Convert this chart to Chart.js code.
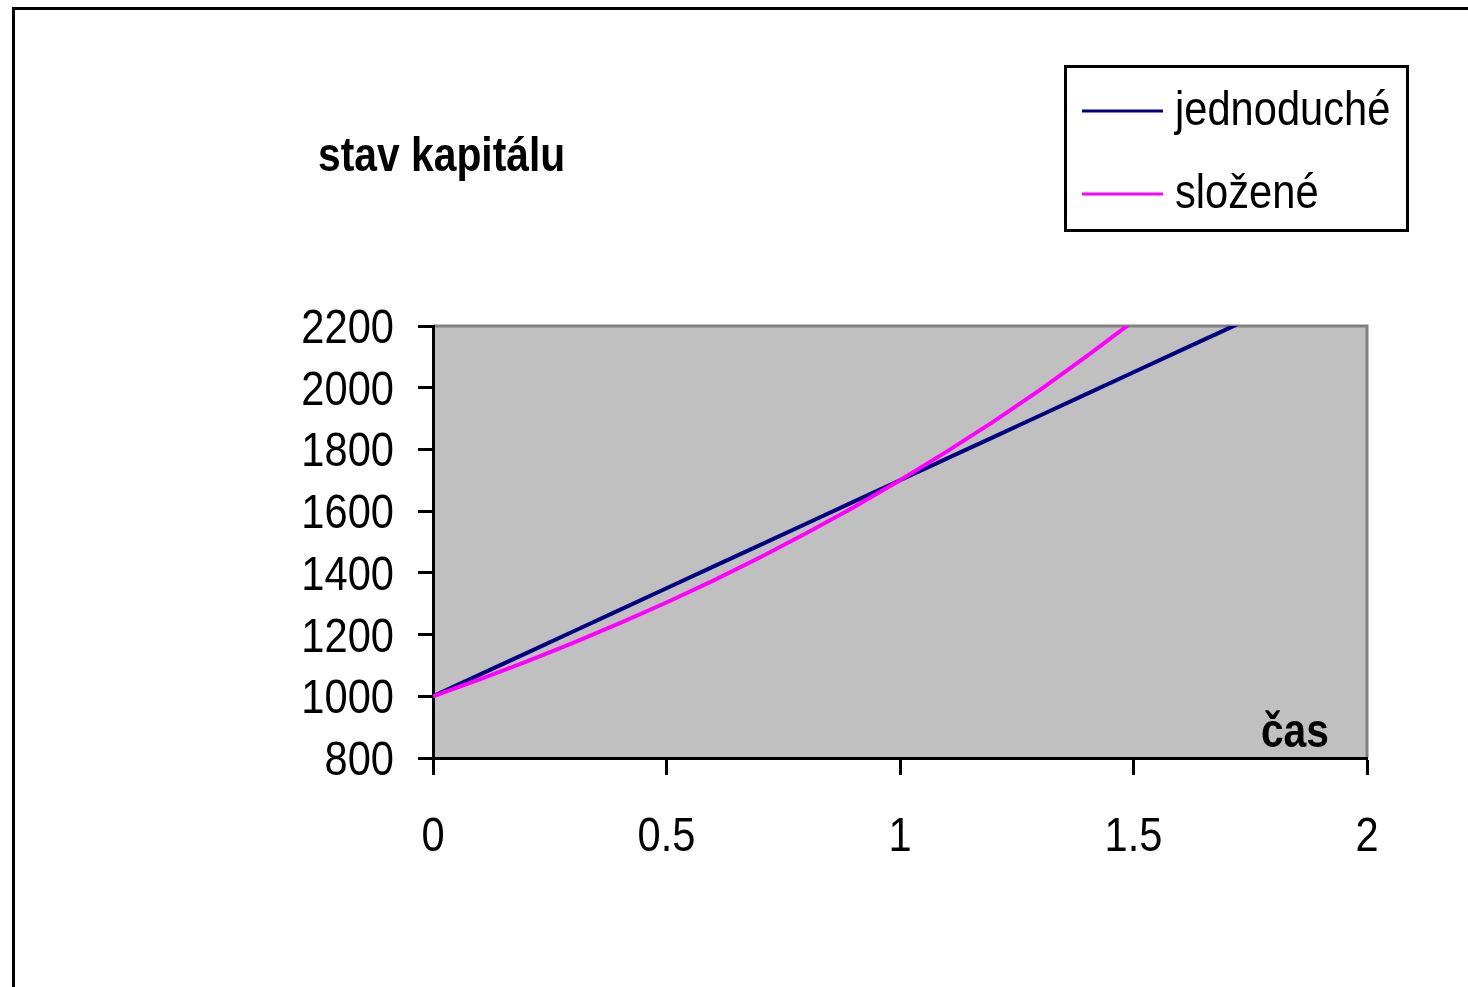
<!DOCTYPE html>
<html>
<head>
<meta charset="utf-8">
<script src="https://cdn.jsdelivr.net/npm/chart.js@4.4.1/dist/chart.umd.min.js"></script>
<style>
  html, body { margin: 0; padding: 0; background: #fff; }
  canvas { display: block; }
</style>
</head>
<body>
<canvas id="chart" width="1468" height="987"></canvas>
<script>
// ─── Data ─────────────────────────────────────────────────────────────────────
const casValues = [0, 0.1, 0.2, 0.3, 0.4, 0.5, 0.6, 0.7, 0.8, 0.9, 1.0,
                   1.1, 1.2, 1.3, 1.4, 1.5, 1.6, 1.7, 1.8, 1.9, 2.0];
const jednoducheValues = [1000, 1070, 1140, 1210, 1280, 1350, 1420, 1490, 1560, 1630, 1700,
                          1770, 1840, 1910, 1980, 2050, 2120, 2190, 2260, 2330, 2400];
const slozeneValues = [1000, 1055, 1112, 1173, 1237, 1304, 1375, 1450, 1529, 1612, 1700,
                       1793, 1890, 1993, 2102, 2216, 2337, 2464, 2598, 2740, 2890];
const xTicks = [0, 0.5, 1, 1.5, 2];
const yTicks = [800, 1000, 1200, 1400, 1600, 1800, 2000, 2200];
const seriesNames = ['jednoduché', 'složené'];
const seriesColors = ['#000080', '#FF00FF'];

const FONT = "'Liberation Sans', Arial, sans-serif";
const SQUEEZE = 0.85;   // the original text is a condensed Arial

const toPoints = vals => vals.map((v, i) => ({ x: casValues[i], y: v }));

// draw text squeezed horizontally around its anchor
function narrowText(ctx, text, x, y, font, align) {
    ctx.save();
    ctx.font = font;
    ctx.textAlign = align;
    ctx.textBaseline = 'alphabetic';
    ctx.translate(x, y);
    ctx.scale(SQUEEZE, 1);
    ctx.fillText(text, 0, 0);
    ctx.restore();
}

// ─── Plot background, frame, labels, title, legend ───────────────────────────
const decorPlugin = {
    id: 'decor',
    beforeDraw(chart) {
        const { ctx, chartArea: a } = chart;
        ctx.save();
        ctx.fillStyle = '#fff';
        ctx.fillRect(0, 0, chart.width, chart.height);
        // outer frame (right/bottom run off the picture)
        ctx.strokeStyle = '#000';
        ctx.lineWidth = 3;
        ctx.beginPath();
        ctx.moveTo(13.5, chart.height + 5);
        ctx.lineTo(13.5, 8.5);
        ctx.lineTo(chart.width + 5, 8.5);
        ctx.stroke();
        // plot area
        ctx.fillStyle = '#C0C0C0';
        ctx.fillRect(a.left, a.top, a.right - a.left, a.bottom - a.top);
        ctx.strokeStyle = '#808080';
        ctx.lineWidth = 3;
        ctx.beginPath();
        ctx.moveTo(a.left, a.top);
        ctx.lineTo(a.right, a.top);
        ctx.lineTo(a.right, a.bottom);
        ctx.stroke();
        ctx.restore();
    },
    afterDraw(chart) {
        const { ctx } = chart;
        const xs = chart.scales.x, ys = chart.scales.y;
        ctx.save();
        ctx.fillStyle = '#000';
        const tickFont = '49px ' + FONT;
        yTicks.forEach(v => narrowText(ctx, String(v), 394, ys.getPixelForValue(v) + 17, tickFont, 'right'));
        xTicks.forEach(v => narrowText(ctx, String(v), xs.getPixelForValue(v), 851, tickFont, 'center'));
        // title
        narrowText(ctx, 'stav kapitálu', 318, 171, 'bold 48px ' + FONT, 'left');
        // axis title inside plot
        narrowText(ctx, 'čas', 1329, 747, 'bold 48px ' + FONT, 'right');
        // legend
        ctx.strokeStyle = '#000';
        ctx.lineWidth = 3;
        ctx.strokeRect(1065.5, 66.5, 342, 164);
        const rows = [111, 194];
        seriesNames.forEach((name, i) => {
            ctx.strokeStyle = seriesColors[i];
            ctx.lineWidth = 3;
            ctx.beginPath();
            ctx.moveTo(1082, rows[i]);
            ctx.lineTo(1163, rows[i]);
            ctx.stroke();
            narrowText(ctx, name, 1175, rows[i] + 14, '49px ' + FONT, 'left');
        });
        ctx.restore();
    }
};

new Chart(document.getElementById('chart'), {
    type: 'line',
    data: {
        datasets: [
            {
                label: seriesNames[0],
                data: toPoints(jednoducheValues),
                borderColor: seriesColors[0],
                borderWidth: 4,
                pointRadius: 0,
                tension: 0,
                order: 2
            },
            {
                label: seriesNames[1],
                data: toPoints(slozeneValues),
                borderColor: seriesColors[1],
                borderWidth: 4,
                pointRadius: 0,
                tension: 0,
                order: 1
            }
        ]
    },
    options: {
        responsive: false,
        animation: false,
        events: [],
        layout: { padding: { left: 0, top: 326, right: 101, bottom: 0 } },
        plugins: {
            legend: { display: false },
            title: { display: false },
            tooltip: { enabled: false }
        },
        scales: {
            x: {
                type: 'linear',
                min: 0,
                max: 2,
                afterFit: s => { s.height = 229; },
                afterBuildTicks: s => { s.ticks = xTicks.map(v => ({ value: v })); },
                grid: { drawOnChartArea: false, tickLength: 17, tickWidth: 3, tickColor: '#000' },
                border: { display: true, color: '#000', width: 3 },
                ticks: { display: false, autoSkip: false }
            },
            y: {
                min: 800,
                max: 2200,
                afterFit: s => { s.width = 433; },
                afterBuildTicks: s => { s.ticks = yTicks.map(v => ({ value: v })); },
                grid: { drawOnChartArea: false, tickLength: 15, tickWidth: 3, tickColor: '#000' },
                border: { display: true, color: '#000', width: 3 },
                ticks: { display: false, autoSkip: false }
            }
        }
    },
    plugins: [decorPlugin]
});
</script>
</body>
</html>
